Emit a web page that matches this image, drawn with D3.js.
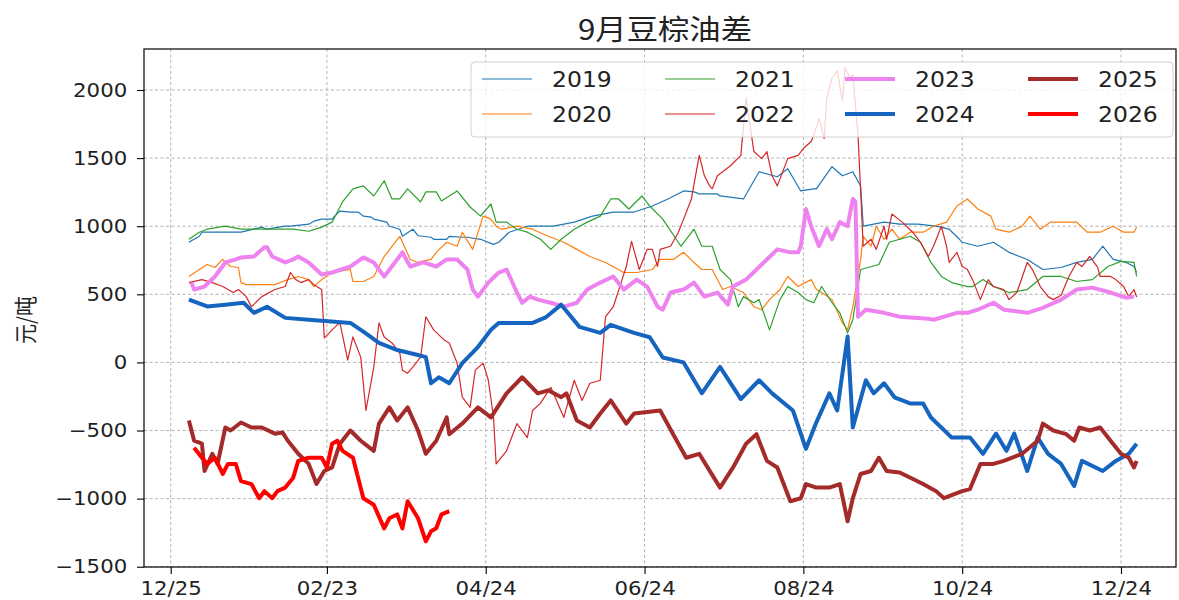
<!DOCTYPE html>
<html><head><meta charset="utf-8">
<script src="https://cdn.jsdelivr.net/npm/d3@7/dist/d3.min.js"></script>
<style>body{margin:0;background:#fff}svg{display:block}</style>
</head><body><svg id="c" width="1179" height="600"></svg>
<script>
// ---------- DATA (x = day offset from 01/01, y = 元/吨) ----------
const seriesNames = ["2019","2020","2021","2022","2023","2024","2025","2026"];
const s2019 = [[0,882],[4,926],[5,956],[14,956],[20,956],[28,993],[30,978],[37,1000],[39,1000],[46,1015],[48,1037],[51,1052],[55,1052],[56,1074],[58,1111],[62,1104],[65,1104],[67,1074],[70,1067],[71,1052],[76,1030],[77,1000],[81,978],[82,926],[86,978],[88,930],[93,919],[94,904],[99,904],[100,926],[105,919],[107,919],[112,904],[117,867],[119,882],[123,956],[130,1000],[140,1000],[148,1030],[155,1074],[163,1104],[171,1104],[178,1148],[184,1200],[190,1259],[194,1252],[196,1237],[203,1237],[204,1222],[213,1200],[219,1400],[226,1363],[230,1422],[235,1259],[240,1274],[241,1274],[247,1437],[251,1370],[255,1400],[258,1296],[259,1000],[267,1030],[273,1015],[280,1015],[287,1000],[292,978],[296,904],[297,882],[303,853],[309,882],[315,808],[322,756],[328,682],[335,697],[341,734],[347,756],[351,853],[355,756],[360,734],[363,704],[364,660]];
const s2020 = [[0,631],[4,682],[7,719],[10,697],[13,756],[16,704],[19,697],[20,586],[22,571],[27,571],[33,571],[36,594],[38,608],[42,631],[46,608],[48,557],[51,608],[55,660],[62,682],[63,594],[67,594],[71,631],[75,778],[81,926],[85,756],[88,734],[93,756],[95,808],[99,882],[103,853],[105,956],[109,830],[113,1074],[116,1052],[118,1000],[120,978],[126,1000],[132,978],[138,926],[144,882],[149,830],[154,778],[160,734],[167,660],[172,660],[178,682],[181,756],[186,756],[190,808],[194,734],[197,682],[201,682],[205,535],[208,557],[213,513],[217,409],[220,387],[223,461],[227,535],[230,631],[234,557],[239,608],[241,535],[243,513],[247,461],[251,290],[253,239],[255,409],[258,756],[259,926],[262,853],[264,1000],[267,904],[270,978],[273,904],[277,956],[282,956],[286,1000],[291,1030],[295,1148],[299,1200],[303,1126],[308,1074],[310,978],[315,956],[320,1000],[323,1074],[327,978],[331,1030],[336,1030],[341,1030],[345,956],[350,956],[355,1000],[359,956],[363,956],[364,993]];
const s2021 = [[0,904],[4,956],[7,978],[14,1000],[20,978],[27,978],[33,978],[40,978],[46,963],[51,993],[55,1030],[57,1104],[59,1178],[63,1274],[67,1296],[71,1222],[75,1333],[78,1200],[81,1200],[84,1274],[89,1178],[91,1252],[95,1252],[97,1185],[103,1259],[108,1141],[112,1074],[116,1163],[118,1030],[122,1030],[126,978],[130,956],[135,904],[139,830],[143,904],[148,978],[153,1030],[158,1074],[162,1200],[165,1200],[169,1126],[174,1222],[177,1148],[182,1052],[189,853],[194,978],[197,853],[201,853],[204,682],[208,608],[211,409],[213,483],[217,438],[219,461],[223,239],[227,461],[230,557],[234,513],[237,461],[240,438],[243,557],[247,438],[250,364],[253,217],[255,313],[258,682],[265,719],[269,882],[273,904],[277,926],[281,882],[285,734],[289,631],[293,586],[299,557],[301,557],[305,608],[309,557],[315,513],[322,535],[328,631],[335,631],[341,594],[347,608],[353,704],[358,742],[363,734],[364,631]];
const s2022 = [[0,586],[5,608],[9,586],[13,557],[17,513],[19,535],[22,483],[24,409],[28,483],[33,535],[37,557],[39,660],[41,608],[43,586],[46,608],[48,571],[51,535],[52,180],[55,239],[57,276],[58,290],[61,17],[63,187],[66,39],[68,-353],[71,-35],[73,290],[75,187],[78,143],[81,69],[82,-57],[84,-79],[86,-35],[89,39],[91,335],[94,239],[98,165],[100,143],[103,-5],[105,-255],[108,-330],[110,-57],[113,-5],[115,-131],[117,-404],[118,-745],[122,-649],[126,-449],[130,-552],[132,-353],[135,-301],[139,-183],[144,-404],[148,-131],[151,-279],[154,-153],[158,-131],[160,335],[163,409],[166,586],[168,704],[170,889],[173,682],[176,830],[178,830],[180,704],[181,830],[185,853],[188,956],[190,1052],[193,1200],[196,1520],[198,1370],[200,1296],[201,1274],[203,1370],[208,1444],[212,1520],[214,1940],[217,1548],[220,1496],[222,1548],[224,1370],[226,1296],[230,1496],[234,1520],[236,1570],[239,1622],[240,1666],[242,1792],[244,1644],[245,1940],[247,2088],[249,2140],[251,1918],[252,2162],[254,2088],[255,2110],[257,1666],[258.5,1052],[259,853],[262,904],[264,830],[267,1000],[268,904],[270,1089],[274,1030],[278,956],[281,882],[284,778],[286,853],[289,1000],[291,853],[292,734],[295,808],[297,704],[299,682],[301,608],[304,461],[307,608],[309,557],[313,535],[315,461],[318,513],[322,734],[324,682],[327,557],[330,483],[332,461],[335,493],[338,631],[341,734],[343,704],[346,778],[349,700],[350,631],[354,631],[356,608],[359,557],[361,483],[363,535],[364,480]];
const s2023 = [[1,586],[2,535],[6,557],[10,631],[14,734],[18,756],[20,771],[25,778],[29,845],[30,845],[32,778],[37,734],[40,756],[42,778],[46,734],[51,645],[55,660],[62,704],[67,771],[71,734],[75,631],[80,756],[82,808],[85,704],[90,734],[95,704],[99,756],[103,756],[107,682],[109,535],[111,483],[115,586],[119,660],[122,682],[126,513],[128,438],[131,483],[134,461],[139,438],[144,409],[149,438],[153,535],[158,586],[163,631],[167,535],[172,608],[176,557],[180,409],[182,387],[185,513],[190,535],[194,586],[198,483],[203,513],[207,424],[209,557],[214,608],[218,682],[222,756],[226,830],[231,808],[234,808],[235,853],[237,1126],[239,1000],[242,853],[245,978],[247,904],[250,1030],[253,1000],[255,1200],[256,1180],[257,335],[260,387],[267,364],[273,335],[284,320],[286,313],[295,364],[299,364],[303,387],[309,438],[313,387],[322,364],[328,401],[335,461],[341,535],[347,549],[354,513],[360,475],[363,483]];
const s2024 = [[0,461],[7,411],[14,424],[21,438],[25,364],[30,409],[37,327],[46,313],[56,298],[62,290],[67,226],[73,143],[80,91],[88,54],[91,39],[93,-153],[96,-109],[100,-153],[105,-5],[111,113],[116,239],[119,290],[132,290],[137,330],[143,424],[150,261],[158,217],[162,276],[171,217],[177,185],[182,36],[190,0],[197,-227],[204,-33],[212,-270],[219,-131],[224,-227],[232,-353],[237,-634],[241,-440],[246,-227],[249,-353],[253,190],[255,-478],[260,-131],[263,-227],[267,-153],[271,-256],[277,-301],[282,-301],[285,-404],[293,-552],[300,-552],[305,-671],[310,-523],[314,-649],[317,-523],[322,-797],[326,-552],[330,-671],[335,-745],[340,-908],[343,-723],[351,-797],[356,-723],[361,-671],[364,-597]];
const s2025 = [[0,-427],[2,-575],[5,-597],[6,-797],[9,-671],[11,-745],[14,-478],[16,-500],[20,-441],[24,-478],[28,-478],[33,-523],[36,-515],[38,-575],[42,-671],[46,-745],[49,-893],[52,-797],[55,-771],[58,-597],[62,-500],[66,-575],[71,-649],[73,-449],[77,-330],[80,-427],[84,-330],[88,-500],[91,-671],[95,-575],[99,-404],[100,-527],[105,-449],[111,-330],[116,-404],[122,-227],[128,-109],[134,-227],[138,-205],[143,-255],[145,-227],[149,-427],[154,-478],[158,-375],[162,-279],[168,-449],[171,-375],[181,-353],[186,-527],[191,-700],[196,-671],[204,-919],[209,-771],[214,-597],[218,-527],[222,-723],[226,-771],[231,-1019],[235,-997],[237,-893],[241,-919],[246,-919],[250,-893],[253,-1166],[255,-997],[258,-819],[262,-797],[265,-700],[268,-797],[273,-808],[282,-893],[287,-945],[290,-997],[297,-945],[300,-930],[304,-745],[309,-745],[313,-723],[320,-671],[326,-575],[328,-449],[332,-500],[337,-527],[340,-575],[342,-478],[346,-500],[350,-478],[354,-575],[358,-671],[361,-700],[363,-771],[364,-723]];
const s2026 = [[2,-626],[5,-700],[7,-745],[10,-700],[13,-819],[15,-745],[18,-745],[20,-871],[24,-893],[27,-997],[29,-945],[32,-997],[34,-945],[37,-919],[40,-849],[42,-723],[46,-700],[51,-700],[53,-771],[55,-597],[57,-575],[59,-649],[63,-700],[67,-997],[71,-1045],[75,-1218],[77,-1144],[80,-1116],[82,-1218],[84,-1019],[88,-1144],[91,-1314],[93,-1240],[95,-1218],[97,-1116],[100,-1092]];
const yTicks = [-1500,-1000,-500,0,500,1000,1500,2000];
const xTickDays = [-7,53,114,175,236,297,358];
const xTickLabels = ["12/25","02/23","04/24","06/24","08/24","10/24","12/24"];
const titleText = "9月豆棕油差";
const yLabelText = "元/吨";

// ---------- STYLE ----------
const allSeries = [s2019,s2020,s2021,s2022,s2023,s2024,s2025,s2026];
const colors = ["#1f77b4","#ff7f0e","#2ca02c","#d62728","#ee82ee","#1565c0","#a52a2a","#ff0000"];
const widths = [1.2,1.2,1.2,1.2,4,4,4,4];
const SX = 1.12; // horizontal text stretch of reference
const L=144, R=1176, T=49, B=567;
const svg = d3.select("#c");
const base = Date.UTC(2024,0,1);
const dayToDate = d => new Date(base + d*86400000);
const x = d3.scaleUtc().domain([dayToDate(-17.25), dayToDate(379.13)]).range([L,R]);
const y = d3.scaleLinear().domain([-1502, 2301]).range([B,T]);
const numFont = "'DejaVu Sans', sans-serif";
const cjkFont = "'Noto Sans CJK SC','DejaVu Sans',sans-serif";

// grid
const grid = svg.append("g");
grid.selectAll("line.gx").data(xTickDays).join("line")
  .attr("x1",d=>x(dayToDate(d))).attr("x2",d=>x(dayToDate(d))).attr("y1",T).attr("y2",B)
  .attr("stroke","#a0a0a0").attr("stroke-width",0.8).attr("stroke-dasharray","3,2.5");
grid.selectAll("line.gy").data(yTicks).join("line")
  .attr("x1",L).attr("x2",R).attr("y1",d=>y(d)).attr("y2",d=>y(d))
  .attr("stroke","#a0a0a0").attr("stroke-width",0.8).attr("stroke-dasharray","3,2.5");

// lines
svg.append("clipPath").attr("id","clip").append("rect").attr("x",L).attr("y",T).attr("width",R-L).attr("height",B-T);
const line = d3.line().x(d=>x(dayToDate(d[0]))).y(d=>y(d[1]));
const lg = svg.append("g").attr("clip-path","url(#clip)");
allSeries.forEach((s,i)=>{
  lg.append("path").attr("d",line(s)).attr("fill","none")
    .attr("stroke",colors[i]).attr("stroke-width",widths[i])
    .attr("stroke-linejoin","round").attr("stroke-linecap","butt");
});

// axes
const yAxis = d3.axisLeft(y).tickValues(yTicks).tickFormat(d3.format("d")).tickSize(7).tickPadding(8);
const xAxis = d3.axisBottom(x).tickValues(xTickDays.map(dayToDate)).tickFormat((d,i)=>xTickLabels[i]).tickSize(7).tickPadding(8);
const ga = svg.append("g").attr("transform",`translate(${L},0)`).call(yAxis);
const gb = svg.append("g").attr("transform",`translate(0,${B})`).call(xAxis);
[ga,gb].forEach(g=>{
  g.select(".domain").remove();
  g.selectAll("line").attr("stroke","#000").attr("stroke-width",1.1);
  g.selectAll("text").attr("font-family",numFont).attr("font-size",19).attr("fill","#222")
    .attr("transform",`scale(${SX},1)`);
});
// frame
svg.append("rect").attr("x",L).attr("y",T).attr("width",R-L).attr("height",B-T)
  .attr("fill","none").attr("stroke","#000").attr("stroke-width",1.2);

// title
svg.append("text").attr("transform",`translate(${(L+R)/2+5},40) scale(${SX},1)`)
  .attr("text-anchor","middle").attr("font-family",cjkFont).attr("font-size",28).attr("fill","#222").text(titleText);
// y label
svg.append("text").attr("transform",`translate(34,320) rotate(-90) scale(1,${SX})`)
  .attr("text-anchor","middle").attr("font-family",cjkFont).attr("font-size",20).attr("fill","#222").text(yLabelText);

// legend
const leg = svg.append("g");
leg.append("rect").attr("x",471).attr("y",62).attr("width",702).attr("height",75).attr("rx",4)
  .attr("fill","#fff").attr("fill-opacity",0.8).attr("stroke","#d0d0d0").attr("stroke-width",1);
const colX = [482,665,845,1028];
const rowY = [79,114];
seriesNames.forEach((n,i)=>{
  const cx = colX[Math.floor(i/2)], cy = rowY[i%2];
  leg.append("line").attr("x1",cx).attr("x2",cx+50).attr("y1",cy).attr("y2",cy)
    .attr("stroke",colors[i]).attr("stroke-width",widths[i]);
  leg.append("text").attr("transform",`translate(${cx+70},${cy+8}) scale(${SX},1)`)
    .attr("font-family",numFont).attr("font-size",21).attr("fill","#222").text(n);
});
</script></body></html>
